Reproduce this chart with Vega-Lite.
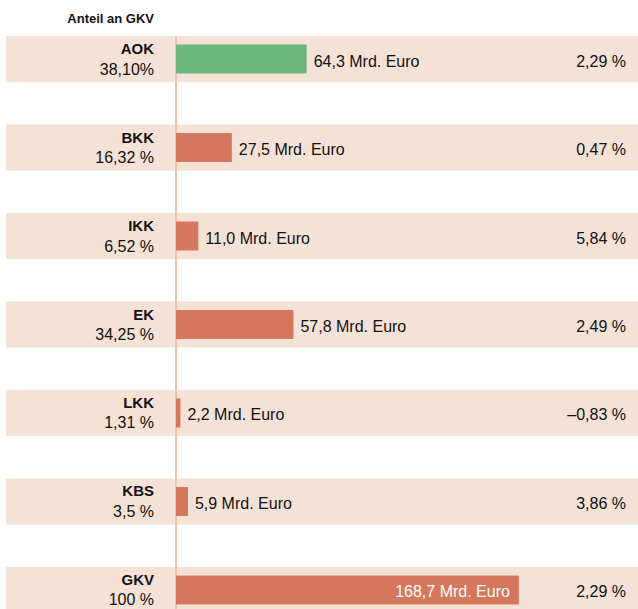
{
  "$schema": "https://vega.github.io/schema/vega-lite/v6.json",
  "width": 632,
  "height": 577,
  "autosize": {"type": "none"},
  "padding": {"left": 6, "top": 36, "right": 0, "bottom": 0},
  "background": "white",
  "title": {
    "text": "Anteil an GKV",
    "anchor": "start",
    "frame": "group",
    "align": "right",
    "dx": 148,
    "dy": 16,
    "fontSize": 13,
    "fontWeight": "bold",
    "font": "Liberation Sans",
    "color": "#111111",
    "baseline": "alphabetic",
    "offset": 15
  },
  "config": {"view": {"stroke": null}, "font": "Liberation Sans"},
  "datasets": {
    "rows": [
      {"name": "AOK", "share": "38,10%", "value": 64.3, "valueLabel": "64,3 Mrd. Euro", "change": "2,29 %"},
      {"name": "BKK", "share": "16,32 %", "value": 27.5, "valueLabel": "27,5 Mrd. Euro", "change": "0,47 %"},
      {"name": "IKK", "share": "6,52 %", "value": 11.0, "valueLabel": "11,0 Mrd. Euro", "change": "5,84 %"},
      {"name": "EK", "share": "34,25 %", "value": 57.8, "valueLabel": "57,8 Mrd. Euro", "change": "2,49 %"},
      {"name": "LKK", "share": "1,31 %", "value": 2.2, "valueLabel": "2,2 Mrd. Euro", "change": "–0,83 %"},
      {"name": "KBS", "share": "3,5 %", "value": 5.9, "valueLabel": "5,9 Mrd. Euro", "change": "3,86 %"},
      {"name": "GKV", "share": "100 %", "value": 168.7, "valueLabel": "168,7 Mrd. Euro", "change": "2,29 %"}
    ]
  },
  "data": {"name": "rows"},
  "layer": [
    {
      "mark": {"type": "rect", "color": "#f5e2d7"},
      "encoding": {
        "y": {"field": "name", "type": "nominal", "sort": null, "axis": null, "scale": {"paddingInner": 0.48, "paddingOuter": 0}}
      }
    },
    {
      "mark": {"type": "rule", "color": "#f0c0a8", "strokeWidth": 1.5},
      "encoding": {
        "x": {"datum": 0, "type": "quantitative", "axis": null, "scale": {"domain": [-83.6, 227.3], "nice": false, "zero": false}}
      }
    },
    {
      "mark": {"type": "bar", "size": 29},
      "encoding": {
        "y": {"field": "name", "type": "nominal", "sort": null, "axis": null},
        "x": {"field": "value", "type": "quantitative", "axis": null},
        "color": {"condition": {"test": "datum.name === 'AOK'", "value": "#6db57a"}, "value": "#d4775c"}
      }
    },
    {
      "mark": {"type": "text", "align": "right", "baseline": "alphabetic", "dy": -5, "fontSize": 15, "fontWeight": "bold", "color": "#111111"},
      "encoding": {
        "y": {"field": "name", "type": "nominal", "sort": null, "axis": null},
        "x": {"value": 148},
        "text": {"field": "name"}
      }
    },
    {
      "mark": {"type": "text", "align": "right", "baseline": "alphabetic", "dy": 15.5, "fontSize": 16, "color": "#111111"},
      "encoding": {
        "y": {"field": "name", "type": "nominal", "sort": null, "axis": null},
        "x": {"value": 148},
        "text": {"field": "share"}
      }
    },
    {
      "transform": [{"filter": "datum.name !== 'GKV'"}],
      "mark": {"type": "text", "align": "left", "baseline": "alphabetic", "dx": 7, "dy": 7.5, "fontSize": 16, "color": "#111111"},
      "encoding": {
        "y": {"field": "name", "type": "nominal", "sort": null, "axis": null},
        "x": {"field": "value", "type": "quantitative"},
        "text": {"field": "valueLabel"}
      }
    },
    {
      "transform": [{"filter": "datum.name === 'GKV'"}],
      "mark": {"type": "text", "align": "right", "baseline": "alphabetic", "dx": -9, "dy": 7.5, "fontSize": 16, "color": "white"},
      "encoding": {
        "y": {"field": "name", "type": "nominal", "sort": null, "axis": null},
        "x": {"field": "value", "type": "quantitative"},
        "text": {"field": "valueLabel"}
      }
    },
    {
      "mark": {"type": "text", "align": "right", "baseline": "alphabetic", "dy": 7.5, "fontSize": 16, "color": "#111111"},
      "encoding": {
        "y": {"field": "name", "type": "nominal", "sort": null, "axis": null},
        "x": {"value": 620},
        "text": {"field": "change"}
      }
    }
  ]
}
